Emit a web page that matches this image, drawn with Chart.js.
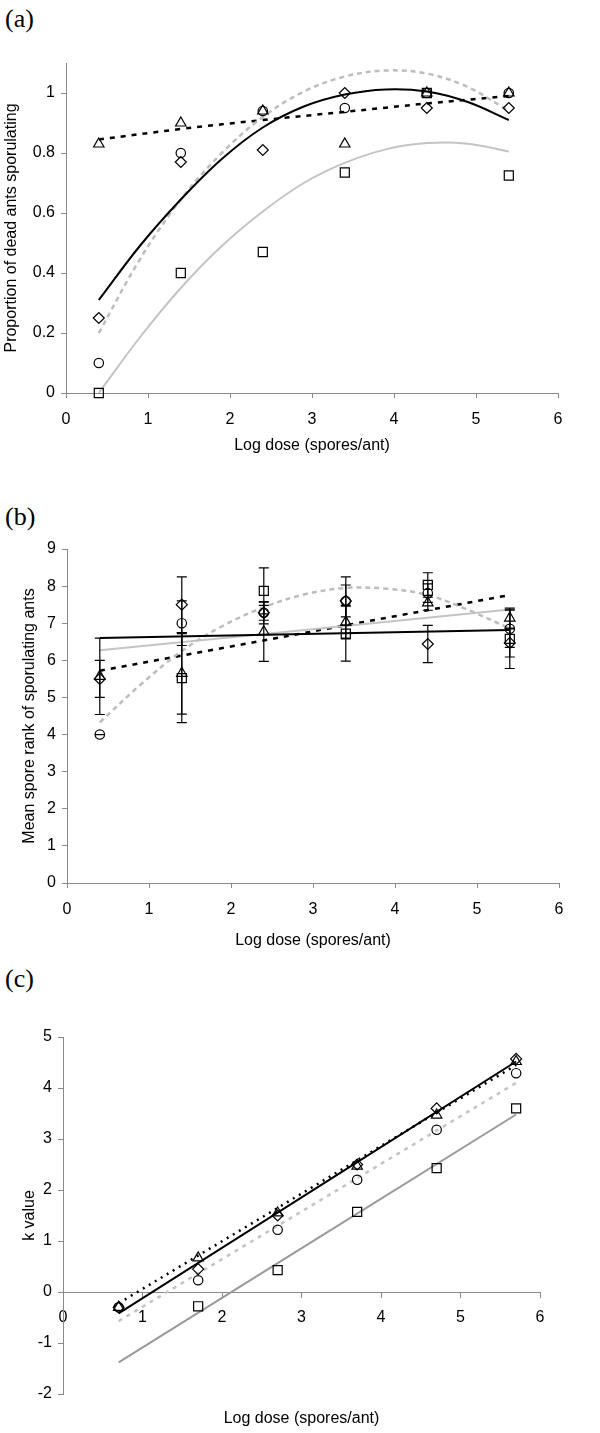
<!DOCTYPE html>
<html>
<head>
<meta charset="utf-8">
<script src="https://cdn.jsdelivr.net/npm/chart.js@4.4.0/dist/chart.umd.min.js"></script>
<style>
  html, body { margin: 0; padding: 0; background: #fff; }
  body { width: 600px; height: 1433px; position: relative; overflow: hidden; }
  .panel { position: absolute; left: 0; width: 600px; }
  .tag { position: absolute; left: 5px; font-family: 'Liberation Serif', 'Times New Roman', serif; font-size: 26px; line-height: 1; color: #000; }
</style>
</head>
<body>
<div class="tag" style="top:6px">(a)</div>
<div class="tag" style="top:504px">(b)</div>
<div class="tag" style="top:966px">(c)</div>
<div class="panel" style="top:0;height:470px"><canvas id="chartA"></canvas></div>
<div class="panel" style="top:470px;height:490px"><canvas id="chartB"></canvas></div>
<div class="panel" style="top:960px;height:473px"><canvas id="chartC"></canvas></div>
<script>
// tick labels
const xTicks = [0, 1, 2, 3, 4, 5, 6];
const yTicksA = [0, 0.2, 0.4, 0.6, 0.8, 1];
const yTicksB = [0, 1, 2, 3, 4, 5, 6, 7, 8, 9];
const yTicksC = [-2, -1, 0, 1, 2, 3, 4, 5];

// (a) proportion of dead ants sporulating
const doseA = [0.4, 1.4, 2.4, 3.4, 4.4, 5.4];
const propDiamond = [0.25, 0.77, 0.81, 1.0, 0.95, 0.95];
const propCircle = [0.10, 0.80, 0.94, 0.95, 1.0, 1.0];
const propTriangle = [0.83, 0.90, 0.94, 0.83, 1.0, 1.0];
const propSquare = [0.0, 0.40, 0.47, 0.735, 1.0, 0.725];

const fitDoseA = [0.4, 0.9, 1.4, 1.9, 2.4, 2.9, 3.4, 3.9, 4.4, 4.9, 5.4];
const fitDiamondA = [0.31, 0.49, 0.645, 0.78, 0.885, 0.955, 0.995, 1.012, 1.005, 0.97, 0.91];
const fitCircleA = [0.20, 0.445, 0.645, 0.80, 0.92, 1.005, 1.055, 1.075, 1.065, 1.02, 0.94];
const fitSquareA = [0.0, 0.185, 0.35, 0.49, 0.605, 0.70, 0.767, 0.812, 0.833, 0.831, 0.805];
const fitTriangleA = [0.845, 0.88, 0.91, 0.937, 0.965, 0.99];

// (b) mean spore rank of sporulating ants
const doseB = [0.4, 1.4, 2.4, 3.4, 4.4, 5.4];
const rankDiamond = [5.5, 7.5, 7.28, 7.6, 6.44, 6.47];
const rankCircle = [4.0, 7.0, 7.28, 7.6, 7.81, 6.85];
const rankTriangle = [5.57, 5.65, 6.77, 7.03, 7.55, 7.14];
const rankSquare = [null, 5.52, 7.87, 6.72, 8.03, 6.58];
const errDiamond = [0.5, 0.75, 0.2, 0.43, 0.5, 0.38];
const errCircle = [0, 0.6, 0.3, 0.65, 0.25, 0.5];
const errTriangle = [1.03, 1.1, 0.8, 0.45, 0.2, 0.27];
const errSquare = [null, 1.2, 0.62, 0.74, 0.33, 0.8];

const lineDoseB = [0.4, 5.4];
const fitDiamondB = [6.6, 6.82];
const fitSquareB = [6.27, 7.37];
const fitTriangleB = [5.72, 7.76];
const fitDoseB = [0.4, 0.9, 1.4, 1.9, 2.4, 2.9, 3.4, 3.9, 4.4, 4.9, 5.4];
const fitCircleB = [4.33, 5.35, 6.25, 6.93, 7.43, 7.78, 7.95, 7.93, 7.76, 7.35, 6.86];

// (c) k value
const doseC = [0.7, 1.7, 2.7, 3.7, 4.7, 5.7];
const kDiamond = [-0.3, 0.45, 1.5, 2.5, 3.6, 4.57];
const kTriangle = [-0.3, 0.67, 1.55, 2.47, 3.47, 4.52];
const kCircle = [-0.3, 0.23, 1.22, 2.2, 3.18, 4.29];
const kSquare = [null, -0.28, 0.43, 1.57, 2.43, 3.6];

const lineDoseC = [0.7, 5.7];
const fitDiamondC = [-0.42, 4.52];
const fitTriangleC = [-0.22, 4.45];
const fitCircleC = [-0.57, 4.1];
const fitSquareC = [-1.38, 3.48];

Chart.defaults.font.family = "'Liberation Sans', Arial, sans-serif";
Chart.defaults.font.size = 16;
Chart.defaults.color = '#000';

const AXIS = '#8a8a8a';

function pts(xs, ys) {
    return xs.map((x, i) => ({ x: x, y: ys[i] }));
}

function markers(xs, ys, style, radius, errors) {
    return {
        data: pts(xs, ys),
        errors: errors,
        showLine: false,
        pointStyle: style,
        pointRadius: radius,
        pointBorderColor: '#000',
        pointBackgroundColor: 'rgba(0,0,0,0)',
        pointBorderWidth: 1.2,
        clip: false
    };
}

function curve(xs, ys, color, dash, width) {
    return {
        data: pts(xs, ys),
        showLine: true,
        borderColor: color,
        borderWidth: width,
        borderDash: dash,
        pointRadius: 0,
        tension: 0.35,
        fill: false,
        clip: false
    };
}

const errorBars = {
    id: 'errorBars',
    afterDatasetsDraw(chart) {
        const ctx = chart.ctx;
        const yScale = chart.scales.y;
        ctx.save();
        ctx.strokeStyle = '#000';
        ctx.lineWidth = 1.2;
        chart.data.datasets.forEach((ds, i) => {
            if (!ds.errors) return;
            const meta = chart.getDatasetMeta(i);
            ds.data.forEach((p, j) => {
                const e = ds.errors[j];
                if (p.y == null || e == null) return;
                const x = meta.data[j].x;
                const top = yScale.getPixelForValue(p.y + e);
                const bot = yScale.getPixelForValue(p.y - e);
                ctx.beginPath();
                ctx.moveTo(x, top); ctx.lineTo(x, bot);
                ctx.moveTo(x - 5, top); ctx.lineTo(x + 5, top);
                ctx.moveTo(x - 5, bot); ctx.lineTo(x + 5, bot);
                ctx.stroke();
            });
        });
        ctx.restore();
    }
};

function xAxis(height, titlePad, tickPad) {
    return {
        type: 'linear',
        min: 0,
        max: 6,
        afterBuildTicks: s => { s.ticks = xTicks.map(v => ({ value: v })); },
        afterFit: s => { s.height = height; },
        border: { color: AXIS, width: 1 },
        grid: { drawOnChartArea: false, drawTicks: true, tickLength: 5, color: AXIS },
        ticks: { padding: tickPad, maxRotation: 0, callback: v => String(v) },
        title: { display: true, text: 'Log dose (spores/ant)', padding: { top: 0, bottom: titlePad } }
    };
}

function yAxis(min, max, ticks, width, title, titlePad) {
    return {
        type: 'linear',
        min: min,
        max: max,
        afterBuildTicks: s => { s.ticks = ticks.map(v => ({ value: v })); },
        afterFit: s => { s.width = width; },
        border: { color: AXIS, width: 1 },
        grid: { drawOnChartArea: false, drawTicks: true, tickLength: 5, color: AXIS },
        ticks: { padding: 6, callback: v => String(v) },
        title: { display: true, text: title, padding: { top: titlePad, bottom: 0 } }
    };
}

function baseOptions(padding, scales) {
    return {
        responsive: true,
        maintainAspectRatio: false,
        animation: false,
        layout: { padding: padding },
        plugins: { legend: { display: false }, tooltip: { enabled: false } },
        scales: scales
    };
}

function initChartA() {
    new Chart(document.getElementById('chartA'), {
        type: 'scatter',
        data: {
            datasets: [
                markers(doseA, propDiamond, 'rectRot', 5.5),
                markers(doseA, propCircle, 'circle', 4.7),
                markers(doseA, propTriangle, 'triangle', 6),
                markers(doseA, propSquare, 'rect', 6.4),
                curve(fitDoseA, fitDiamondA, '#000', [], 2),
                curve(fitDoseA, fitCircleA, '#bdbdbd', [5, 4], 2.5),
                curve(fitDoseA, fitSquareA, '#c4c4c4', [], 2),
                curve(doseA, fitTriangleA, '#000', [5, 6], 2.5)
            ]
        },
        options: baseOptions({ left: 0, right: 42, top: 63, bottom: 0 }, {
            x: xAxis(77, 15, 12),
            y: yAxis(0, 1.1, yTicksA, 66, 'Proportion of dead ants sporulating', 2)
        })
    });
}

function initChartB() {
    new Chart(document.getElementById('chartB'), {
        type: 'scatter',
        data: {
            datasets: [
                markers(doseB, rankDiamond, 'rectRot', 5.5, errDiamond),
                markers(doseB, rankCircle, 'circle', 4.7, errCircle),
                markers(doseB, rankTriangle, 'triangle', 6, errTriangle),
                markers(doseB, rankSquare, 'rect', 6.4, errSquare),
                curve(lineDoseB, fitDiamondB, '#000', [], 2),
                curve(fitDoseB, fitCircleB, '#bdbdbd', [5, 4], 2.5),
                curve(lineDoseB, fitSquareB, '#c4c4c4', [], 2),
                curve(lineDoseB, fitTriangleB, '#000', [5, 6], 2.5)
            ]
        },
        options: baseOptions({ left: 0, right: 41, top: 79, bottom: 0 }, {
            x: xAxis(77, 10, 12),
            y: yAxis(0, 9, yTicksB, 67, 'Mean spore rank of sporulating ants', 20)
        }),
        plugins: [errorBars]
    });
}

function initChartC() {
    const x = xAxis(0, 0, 11);
    x.position = { y: 0 };
    x.title = { display: false };
    new Chart(document.getElementById('chartC'), {
        type: 'scatter',
        data: {
            datasets: [
                markers(doseC, kDiamond, 'rectRot', 5.5),
                markers(doseC, kTriangle, 'triangle', 6),
                markers(doseC, kCircle, 'circle', 4.7),
                markers(doseC, kSquare, 'rect', 6.4),
                curve(lineDoseC, fitDiamondC, '#000', [], 2),
                curve(lineDoseC, fitTriangleC, '#000', [2, 5], 2.5),
                curve(lineDoseC, fitCircleC, '#c4c4c4', [4, 5], 2.5),
                curve(lineDoseC, fitSquareC, '#9a9a9a', [], 2)
            ]
        },
        options: baseOptions({ left: 0, right: 60, top: 77, bottom: 0 }, {
            x: x,
            x2: {
                type: 'linear',
                position: 'bottom',
                afterFit: s => { s.height = 39; },
                border: { display: false },
                grid: { display: false },
                ticks: { display: false },
                title: { display: true, text: 'Log dose (spores/ant)', padding: { top: 0, bottom: 5 } }
            },
            y: yAxis(-2, 5, yTicksC, 63, 'k value', 20)
        })
    });
}

document.addEventListener('DOMContentLoaded', () => {
    initChartA();
    initChartB();
    initChartC();
});
</script>
</body>
</html>
